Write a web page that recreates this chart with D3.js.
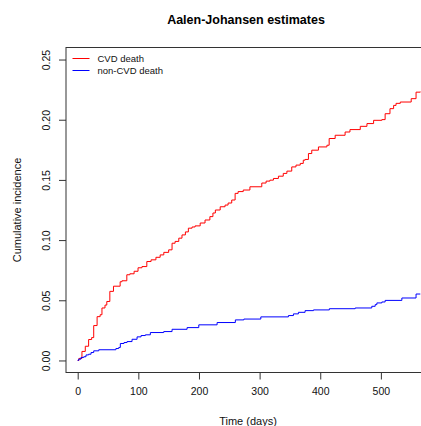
<!DOCTYPE html>
<html>
<head>
<meta charset="utf-8">
<script src="https://cdn.jsdelivr.net/npm/d3@7"></script>
<style>
  html, body { margin: 0; padding: 0; background: #fff; }
  svg { display: block; font-family: "Liberation Sans", Arial, sans-serif; }
</style>
</head>
<body>
<svg id="chart" width="421" height="426"></svg>
<script>
// Aalen-Johansen cumulative incidence: jump times (days) and cumulative values after each jump
const cvdTimes = [0, 2, 7, 12.5, 18, 23, 26.4, 32, 37, 40, 45, 48, 53, 59, 70, 73, 81, 86, 93, 99.5,
  106, 114, 121, 129, 136, 142, 150, 155.6, 160.6, 166.7, 172, 177.6, 182.5, 188.6, 193.6, 202,
  210, 218, 223, 227, 235, 243, 248, 254, 259.6, 264.5, 273, 284, 303.6, 310.7, 317, 322.8, 331,
  339, 345, 353, 360, 367, 372, 375, 380.5, 386, 397, 411, 414.7, 424.6, 441, 449, 466, 477, 488,
  501.6, 507, 515, 521, 525, 532, 550, 558, 565];
const cvdValues = [0, 0.0017, 0.0075, 0.0118, 0.0174, 0.019, 0.029, 0.0364, 0.038, 0.0436, 0.046,
  0.049, 0.0574, 0.0617, 0.0654, 0.0662, 0.0712, 0.072, 0.0741, 0.077, 0.078, 0.0822, 0.0836,
  0.0857, 0.0877, 0.0898, 0.0919, 0.0974, 0.0989, 0.1016, 0.1043, 0.1068, 0.1099, 0.1109, 0.1118,
  0.1142, 0.1167, 0.1195, 0.1225, 0.125, 0.1277, 0.1291, 0.1308, 0.1333, 0.1388, 0.1403, 0.1416,
  0.1443, 0.1474, 0.149, 0.1498, 0.1512, 0.1531, 0.1554, 0.1573, 0.1608, 0.1623, 0.1637, 0.1664,
  0.167, 0.1719, 0.1747, 0.1774, 0.1788, 0.1844, 0.1871, 0.1898, 0.1918, 0.1945, 0.1968, 0.1995,
  0.2001, 0.205, 0.2092, 0.2119, 0.2136, 0.2147, 0.2175, 0.2229, 0.2233];

const nonCvdTimes = [0, 1.6, 5.4, 10, 13.7, 18, 22, 26.4, 34.7, 63, 67.7, 70.3, 76.4, 81.4, 89.6,
  97.9, 104.5, 111.6, 119.8, 141.9, 155.6, 180.4, 199.7, 229.9, 260, 274, 302, 347.5, 355.8, 364,
  375, 388.8, 415, 457.6, 485, 490.6, 493.4, 501.6, 507, 534.6, 558, 565];
const nonCvdValues = [0, 0.0011, 0.0025, 0.0031, 0.0046, 0.0052, 0.0066, 0.008, 0.0089, 0.0099,
  0.0108, 0.0141, 0.0149, 0.0157, 0.0176, 0.0196, 0.0207, 0.0213, 0.0232, 0.024, 0.0259, 0.0273,
  0.0296, 0.0315, 0.0337, 0.0344, 0.0362, 0.0373, 0.0387, 0.04, 0.0414, 0.042, 0.043, 0.0436,
  0.045, 0.0464, 0.0478, 0.0486, 0.0499, 0.0519, 0.0552, 0.0552];

const seriesNames = ["CVD death", "non-CVD death"];
const seriesColors = ["#ff0000", "#0000ff"];
const xTicks = [0, 100, 200, 300, 400, 500];
const yTicks = [0, 0.05, 0.10, 0.15, 0.20, 0.25];

const plot = { left: 66, right: 430, top: 47.5, bottom: 372.5 };

const x = d3.scaleLinear().domain([-19.3, 581]).range([plot.left, plot.right]);
const y = d3.scaleLinear().domain([-0.01, 0.26]).range([plot.bottom, plot.top]);

const svg = d3.select("#chart");

// plot frame
svg.append("rect")
  .attr("x", plot.left).attr("y", plot.top)
  .attr("width", plot.right - plot.left).attr("height", plot.bottom - plot.top)
  .attr("fill", "none").attr("stroke", "#333").attr("stroke-width", 1);

// clip for curves
svg.append("clipPath").attr("id", "clip")
  .append("rect")
  .attr("x", plot.left).attr("y", plot.top)
  .attr("width", plot.right - plot.left).attr("height", plot.bottom - plot.top);

// x axis
const xAxis = svg.append("g")
  .attr("transform", `translate(0,${plot.bottom})`)
  .call(d3.axisBottom(x).tickValues(xTicks).tickSize(7).tickPadding(8).tickFormat(d3.format("d")));
xAxis.select(".domain").remove();
xAxis.selectAll("line").attr("stroke", "#333");
xAxis.selectAll("text").attr("font-size", "10.5px").attr("fill", "#111")
  .attr("font-family", "Liberation Sans, Arial, sans-serif");

// y axis (labels rotated, R style)
const yAxis = svg.append("g")
  .attr("transform", `translate(${plot.left},0)`)
  .call(d3.axisLeft(y).tickValues(yTicks).tickSize(7).tickFormat(d3.format(".2f")));
yAxis.select(".domain").remove();
yAxis.selectAll("line").attr("stroke", "#333");
yAxis.selectAll("text")
  .attr("font-size", "10.5px").attr("fill", "#111")
  .attr("font-family", "Liberation Sans, Arial, sans-serif")
  .attr("text-anchor", "middle")
  .attr("x", null).attr("dy", null)
  .attr("transform", "translate(-20,0) rotate(-90)")
  .attr("dominant-baseline", "central");

// titles
svg.append("text")
  .attr("x", 246).attr("y", 24)
  .attr("text-anchor", "middle")
  .attr("font-size", "12.5px").attr("font-weight", "bold").attr("fill", "#000")
  .text("Aalen-Johansen estimates");

svg.append("text")
  .attr("x", 248).attr("y", 425)
  .attr("text-anchor", "middle")
  .attr("font-size", "11px").attr("fill", "#111")
  .text("Time (days)");

svg.append("text")
  .attr("transform", `translate(21,${(plot.top + plot.bottom) / 2}) rotate(-90)`)
  .attr("text-anchor", "middle")
  .attr("font-size", "11px").attr("fill", "#111")
  .text("Cumulative incidence");

// step curves
const line = d3.line()
  .x(d => x(d[0])).y(d => y(d[1]))
  .curve(d3.curveStepAfter);

const series = [
  d3.zip(cvdTimes, cvdValues),
  d3.zip(nonCvdTimes, nonCvdValues)
];

svg.append("g").attr("clip-path", "url(#clip)")
  .selectAll("path")
  .data(series)
  .join("path")
  .attr("d", line)
  .attr("fill", "none")
  .attr("stroke", (d, i) => seriesColors[i])
  .attr("stroke-width", 1);

// legend
const legend = svg.append("g");
seriesNames.forEach((name, i) => {
  const ly = 58.5 + i * 12;
  legend.append("line")
    .attr("x1", 72.5).attr("x2", 89.5)
    .attr("y1", ly).attr("y2", ly)
    .attr("stroke", seriesColors[i]).attr("stroke-width", 1);
  legend.append("text")
    .attr("x", 97.5).attr("y", ly)
    .attr("dominant-baseline", "central")
    .attr("font-size", "9.5px").attr("fill", "#111")
    .text(name);
});
</script>
</body>
</html>
